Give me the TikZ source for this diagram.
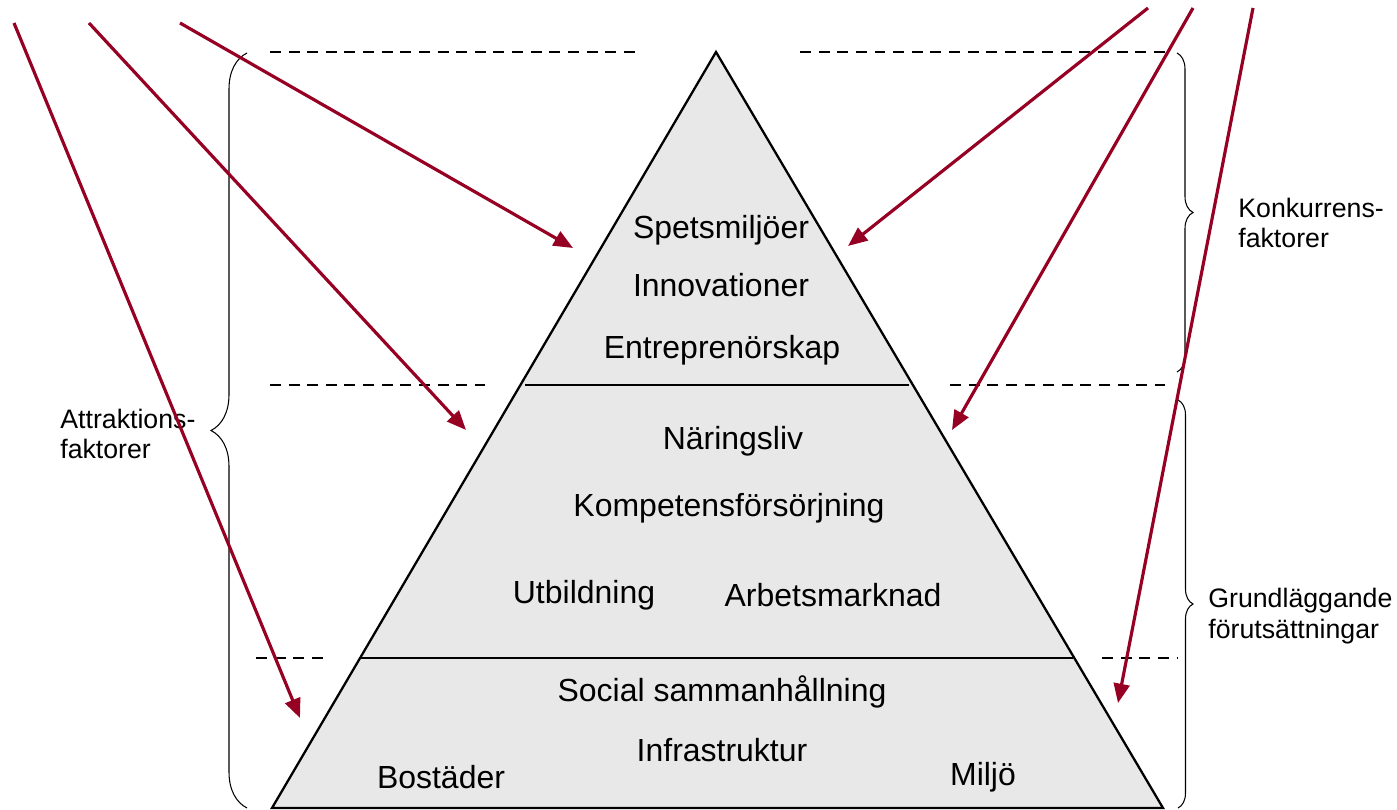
\documentclass[tikz,border=0pt]{standalone}
\usepackage{fontspec}
\setmainfont{Liberation Sans}
\usetikzlibrary{arrows.meta, decorations.pathreplacing}
\definecolor{pilrod}{RGB}{150,0,35}
\definecolor{pyrgra}{RGB}{232,232,232}

\begin{document}
\begin{tikzpicture} [
    x=0.02cm, y=-0.02cm,
    niva/.style = {font=\fontsize{18.2}{21}\selectfont},
    sidtext/.style = {font=\fontsize{15.2}{17.5}\selectfont, align=left, anchor=west, inner sep=0pt},
    pil/.style = {draw=pilrod, line width=1.8pt, -{Triangle[length=11pt, width=9pt]}},
    streck/.style = {line width=1.6pt, dash pattern=on 6.2pt off 4.4pt},
    klammer/.style = {decorate, decoration={brace, amplitude=#1}, line width=0.6pt}
]
    \useasboundingbox (0,0) rectangle (1397,810);

    % pyramiden
    \coordinate (topp) at (716,52);
    \coordinate (vbas) at (272,808);
    \coordinate (hbas) at (1163,808);
    \filldraw [fill=pyrgra, line width=1.3pt] (topp) -- (vbas) -- (hbas) -- cycle;
    \draw [line width=0.6pt] (525,385) -- (909,385);
    \draw [line width=0.6pt] (359,658) -- (1073,658);

    % streckade nivaer
    \draw [streck] (270,52) -- (635,52);
    \draw [streck] (800,52) -- (1165,52);
    \draw [streck] (270,385) -- (485,385);
    \draw [streck] (950,385) -- (1165,385);
    \draw [streck] (256,658) -- (330,658);
    \draw [streck] (1102,658) -- (1178,658);

    % klamrar
    \draw [klammer=0.72cm] (247,808) -- (247,53);
    \draw [klammer=0.32cm] (1177,53) -- (1177,372);
    \draw [klammer=0.3cm] (1178,400) -- (1178,808);

    % texter i pyramiden
    \node [niva] (spets) at (721,230) {Spetsmiljöer};
    \node [niva] (innov) at (721,285) {Innovationer};
    \node [niva] (entre) at (722,350) {Entreprenörskap};
    \node [niva] (naring) at (733,441) {Näringsliv};
    \node [niva] (kompet) at (729,508) {Kompetensförsörjning};
    \node [niva] (utbild) at (584,595) {Utbildning};
    \node [niva] (arbets) at (833,595) {Arbetsmarknad};
    \node [niva] (social) at (722,692) {Social sammanhållning};
    \node [niva] (infra) at (722,750) {Infrastruktur};
    \node [niva] (bostad) at (441,777) {Bostäder};
    \node [niva] (miljo) at (983,777) {Miljö};

    % texter vid klamrarna
    \node [sidtext] (attrak) at (60,434) {Attraktions-\\faktorer};
    \node [sidtext] (konkur) at (1238,223) {Konkurrens-\\faktorer};
    \node [sidtext] (grund) at (1208,616) {Grundläggande\\förutsättningar};

    % pilar
    \coordinate (a1) at (14,23);   \coordinate (b1) at (300,718);
    \coordinate (a2) at (89,23);   \coordinate (b2) at (466,430);
    \coordinate (a3) at (180,23);  \coordinate (b3) at (573,248);
    \coordinate (a4) at (1148,8);  \coordinate (b4) at (848,246);
    \coordinate (a5) at (1193,8);  \coordinate (b5) at (952,430);
    \coordinate (a6) at (1253,8);  \coordinate (b6) at (1118,703);
    \foreach \i in {1,...,6} {
        \draw [pil] (a\i) -- (b\i);
    }
\end{tikzpicture}
\end{document}
